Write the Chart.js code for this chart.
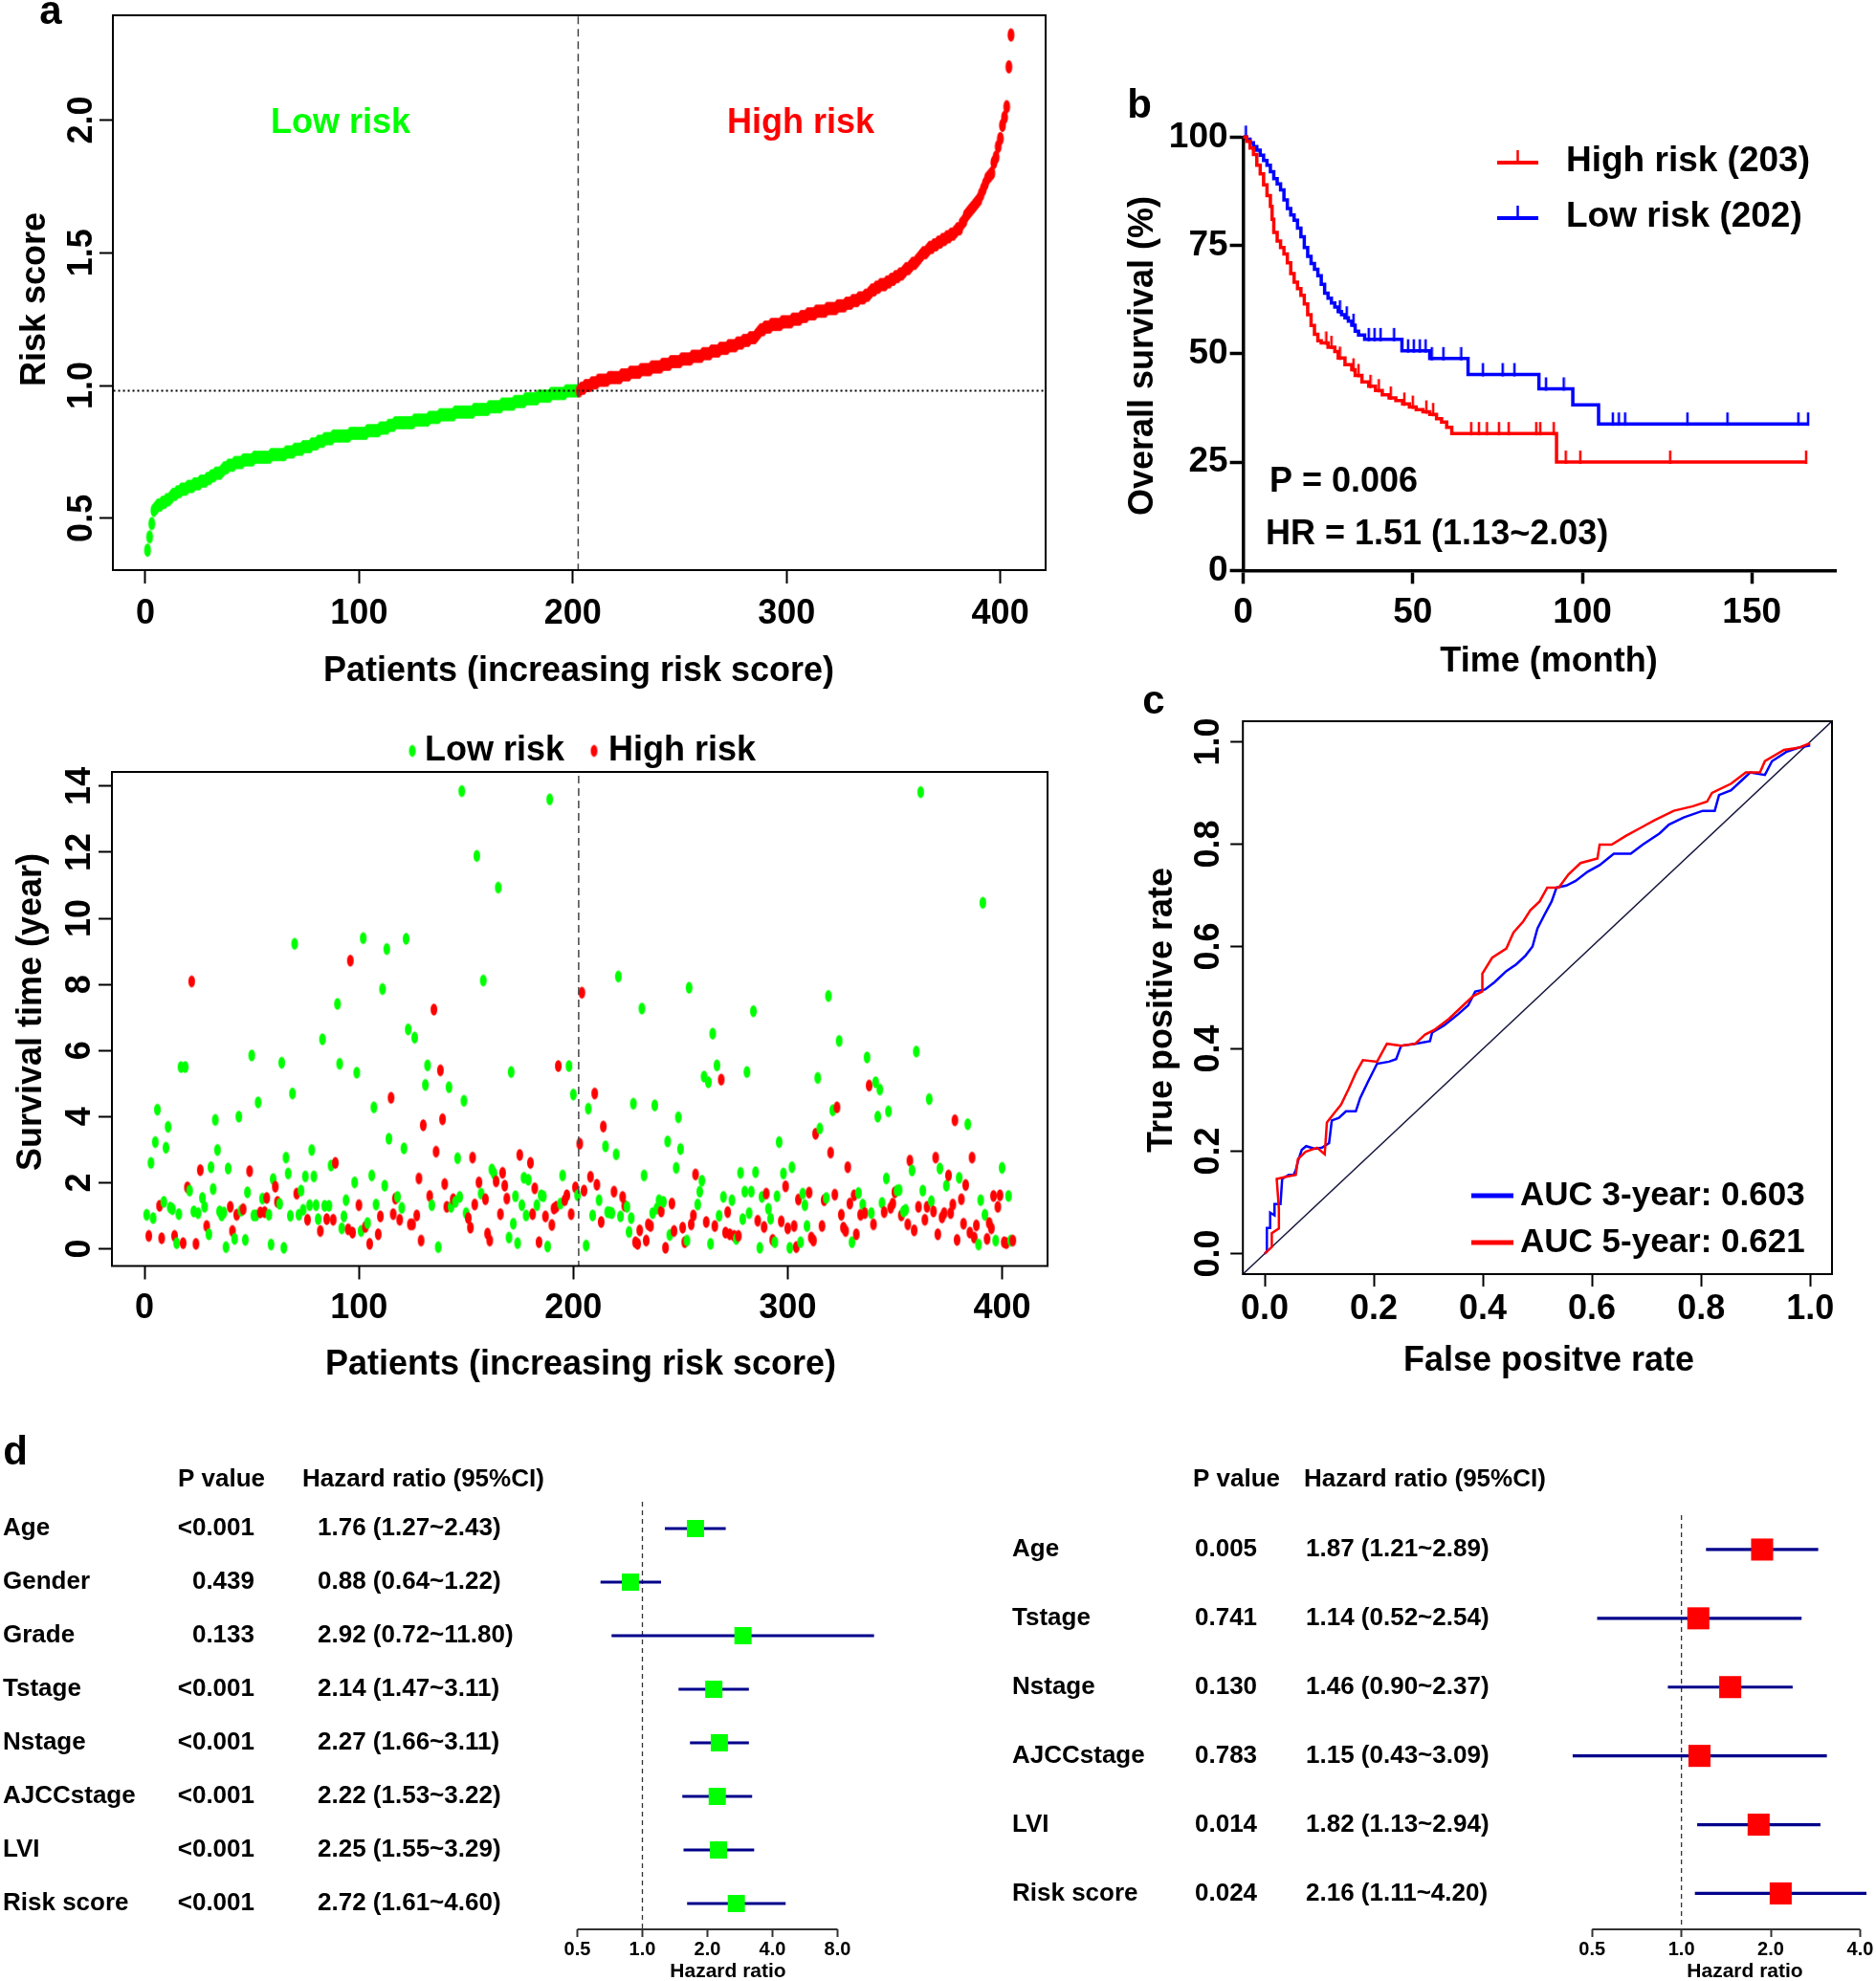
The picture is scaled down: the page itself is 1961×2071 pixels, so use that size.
<!DOCTYPE html>
<html>
<head>
<meta charset="utf-8">
<script src="https://cdn.jsdelivr.net/npm/chart.js@4.4.1/dist/chart.umd.min.js"></script>
<style>
  html, body { margin: 0; padding: 0; background: #fff; }
  #page { position: relative; width: 1961px; height: 2071px; background: #fff; overflow: hidden; }
  #page canvas { position: absolute; }
</style>
</head>
<body>
<div id="page">
  <canvas id="riskChart" width="1110" height="720" style="left:0;top:0"></canvas>
  <canvas id="survChart" width="1110" height="720" style="left:0;top:740px"></canvas>
  <canvas id="kmChart" width="811" height="640" style="left:1150px;top:80px"></canvas>
  <canvas id="rocChart" width="801" height="740" style="left:1160px;top:720px"></canvas>
  <canvas id="uniChart" width="940" height="581" style="left:0;top:1490px"></canvas>
  <canvas id="multiChart" width="921" height="581" style="left:1040px;top:1490px"></canvas>
</div>
<script>
// ---------- data: panel a (risk score, patients sorted) ----------
const lowRiskCount = 202;
const riskCutoff = 0.98;
const patientTicks = [0, 100, 200, 300, 400];
const riskTicks = [0.5, 1.0, 1.5, 2.0];
const riskScores = [
  0.38,0.43,0.48,0.53,0.54,0.55,0.55,0.56,0.56,0.57,
  0.57,0.58,0.59,0.59,0.60,0.60,0.61,0.61,0.61,0.62,
  0.62,0.62,0.63,0.63,0.63,0.64,0.64,0.64,0.65,0.65,
  0.66,0.66,0.67,0.67,0.67,0.68,0.69,0.69,0.70,0.70,
  0.70,0.71,0.71,0.71,0.71,0.72,0.72,0.72,0.72,0.72,
  0.73,0.73,0.73,0.73,0.73,0.73,0.73,0.73,0.74,0.74,
  0.74,0.74,0.74,0.74,0.74,0.75,0.75,0.75,0.75,0.76,
  0.76,0.76,0.76,0.77,0.77,0.77,0.77,0.78,0.78,0.78,
  0.79,0.79,0.79,0.80,0.80,0.80,0.80,0.81,0.81,0.81,
  0.81,0.81,0.81,0.81,0.81,0.82,0.82,0.82,0.82,0.82,
  0.82,0.82,0.82,0.83,0.83,0.83,0.83,0.83,0.83,0.84,
  0.84,0.84,0.84,0.85,0.85,0.85,0.86,0.86,0.86,0.86,
  0.86,0.86,0.86,0.86,0.86,0.87,0.87,0.87,0.87,0.87,
  0.87,0.87,0.88,0.88,0.88,0.88,0.88,0.89,0.89,0.89,
  0.89,0.89,0.89,0.89,0.90,0.90,0.90,0.90,0.90,0.90,
  0.90,0.90,0.90,0.91,0.91,0.91,0.91,0.91,0.91,0.91,
  0.92,0.92,0.92,0.92,0.92,0.92,0.93,0.93,0.93,0.93,
  0.93,0.93,0.94,0.94,0.94,0.94,0.94,0.95,0.95,0.95,
  0.95,0.95,0.95,0.96,0.96,0.96,0.96,0.96,0.96,0.97,
  0.97,0.97,0.97,0.97,0.97,0.97,0.98,0.98,0.98,0.98,
  0.98,0.98,
  0.98,0.99,0.99,1.00,1.00,1.00,1.01,1.01,
  1.01,1.02,1.02,1.02,1.02,1.02,1.03,1.03,1.03,1.03,
  1.03,1.03,1.04,1.04,1.04,1.04,1.05,1.05,1.05,1.05,
  1.05,1.06,1.06,1.06,1.06,1.06,1.07,1.07,1.07,1.07,
  1.07,1.08,1.08,1.08,1.08,1.09,1.09,1.09,1.09,1.09,
  1.10,1.10,1.10,1.10,1.10,1.11,1.11,1.11,1.11,1.11,
  1.12,1.12,1.12,1.12,1.13,1.13,1.13,1.13,1.14,1.14,
  1.14,1.14,1.15,1.15,1.15,1.15,1.16,1.16,1.16,1.17,
  1.17,1.17,1.18,1.18,1.18,1.19,1.20,1.21,1.21,1.22,
  1.22,1.22,1.23,1.23,1.23,1.23,1.23,1.24,1.24,1.24,
  1.24,1.24,1.25,1.25,1.25,1.25,1.26,1.26,1.26,1.27,
  1.27,1.27,1.27,1.28,1.28,1.28,1.28,1.28,1.29,1.29,
  1.29,1.29,1.29,1.30,1.30,1.30,1.30,1.31,1.31,1.31,
  1.32,1.32,1.32,1.33,1.33,1.33,1.34,1.34,1.35,1.36,
  1.36,1.37,1.37,1.38,1.38,1.38,1.39,1.39,1.40,1.40,
  1.41,1.41,1.42,1.42,1.43,1.44,1.44,1.45,1.46,1.46,
  1.47,1.48,1.49,1.50,1.50,1.51,1.52,1.52,1.53,1.53,
  1.54,1.54,1.55,1.55,1.56,1.56,1.57,1.57,1.58,1.59,
  1.59,1.61,1.62,1.64,1.65,1.66,1.67,1.68,1.69,1.70,
  1.72,1.74,1.76,1.78,1.79,1.80,1.84,1.86,1.90,1.93,
  1.98,2.01,2.05,2.20,2.32
];

// survival time (years) per patient, same order; 1 = red dot, 0 = green dot
const yearTicks = [0, 2, 4, 6, 8, 10, 12, 14];
const survYears = [
  1.03,0.39,2.60,0.93,3.23,4.21,1.30,0.32,1.42,3.06,
  3.69,1.25,1.20,0.39,0.17,1.05,5.50,0.17,5.50,1.86,
  1.76,8.09,1.13,0.15,1.08,2.38,1.54,1.27,0.69,0.44,
  2.47,1.81,3.90,2.99,1.13,1.01,1.10,0.05,2.43,1.27,
  0.54,0.30,1.03,4.00,1.15,1.20,0.27,1.71,2.35,5.85,
  1.01,1.01,4.43,1.10,1.52,1.11,1.54,1.03,0.13,2.11,
  1.88,1.42,1.36,5.63,0.03,2.76,2.28,1.00,4.70,9.23,
  1.67,1.03,1.76,1.18,2.19,0.88,1.32,2.99,2.19,1.32,
  0.90,0.54,6.34,1.30,0.90,1.30,2.52,0.88,2.60,7.41,
  5.60,0.62,0.98,1.47,0.59,8.72,0.49,2.01,5.33,1.32,
  0.54,9.40,0.66,0.78,0.15,2.22,4.28,1.34,0.44,0.98,
  7.86,1.91,9.07,3.33,4.57,1.05,1.52,1.57,0.88,1.24,
  3.04,9.38,6.64,0.74,0.74,6.39,1.01,2.13,0.25,3.74,
  4.96,5.55,1.60,1.32,7.24,2.94,0.05,5.40,3.92,1.96,
  1.27,4.89,1.27,1.50,1.42,2.74,1.57,13.85,4.48,1.08,
  0.93,0.64,2.76,1.34,11.89,2.01,1.67,8.12,1.50,0.46,
  0.25,2.40,2.28,2.04,10.93,1.05,2.30,1.91,1.52,0.34,
  5.35,0.76,1.59,0.17,2.84,1.32,2.15,1.01,2.09,2.60,
  1.05,1.83,1.32,0.20,1.62,1.59,0.98,0.07,13.60,0.72,
  1.22,1.27,5.53,1.37,2.22,1.47,1.62,5.53,1.05,4.67,
  1.86,1.62,3.18,7.75,1.76,0.10,4.24,2.18,1.01,4.70,
  1.94,1.47,0.81,3.70,3.10,1.11,1.10,1.08,1.73,2.86,
  8.24,0.98,1.57,1.30,1.27,0.51,0.93,4.39,0.20,0.15,
  0.56,7.27,2.22,0.25,0.74,0.69,1.08,4.34,1.22,1.47,
  1.13,1.42,0.03,3.25,0.42,1.37,0.54,2.45,3.98,3.02,
  0.64,0.20,0.25,7.90,0.74,1.01,2.25,1.34,1.73,2.06,
  5.21,0.81,5.04,0.15,6.51,0.69,5.55,1.00,5.12,1.57,
  0.49,1.11,0.44,1.47,0.39,0.30,0.39,2.30,0.90,1.73,
  5.35,1.08,1.73,7.19,2.32,0.85,0.03,1.57,0.66,1.67,
  1.21,0.91,0.27,0.20,1.59,3.23,0.83,2.28,1.89,0.62,
  0.03,2.47,0.69,0.05,1.49,0.20,1.67,1.32,0.69,1.70,
  0.34,0.25,3.48,5.17,3.64,0.69,1.47,1.54,7.65,2.91,
  4.19,1.64,4.28,6.29,1.03,0.64,0.54,2.47,1.37,0.20,
  1.62,0.44,1.69,1.03,1.34,1.08,5.79,4.94,1.08,0.74,
  5.04,4.00,4.82,1.39,1.11,2.13,4.16,1.24,1.37,1.71,
  1.76,1.78,1.01,1.13,1.18,0.74,2.67,2.37,0.56,5.97,
  1.27,13.82,1.76,0.88,1.27,4.53,1.44,1.13,2.76,0.44,
  2.43,0.95,1.08,1.91,2.22,1.08,1.34,3.89,0.27,2.15,
  1.50,0.76,1.93,3.77,0.49,2.76,0.34,0.71,0.13,1.47,
  10.47,1.03,0.30,0.78,0.62,1.60,0.25,1.27,1.62,2.45,
  0.20,0.17,1.60,0.25,0.25
];
const survDead = [
  0,1,0,0,0,0,1,1,0,0, 0,0,0,1,0,0,0,1,0,1, 0,1,0,1,0,1,0,0,1,0, 0,0,0,0,0,0,0,0,0,1,
  1,0,1,0,0,1,0,0,1,0, 0,0,0,1,0,1,1,0,0,0, 1,1,0,0,0,0,0,0,0,0, 1,0,0,0,0,1,0,0,0,0,
  0,1,0,0,1,0,0,1,1,0, 0,0,0,0,1,1,1,0,0,1, 0,0,1,0,1,0,0,0,1,1, 0,0,0,0,1,1,1,0,1,0,
  0,0,0,1,1,0,1,1,1,1, 0,0,1,0,1,1,0,1,1,1, 1,0,0,1,0,0,0,0,0,0, 1,1,1,1,0,1,0,0,1,1,
  1,0,0,1,0,1,1,1,1,0, 0,0,0,0,1,0,0,0,0,1, 1,1,0,1,0,0,1,0,0,1, 1,1,1,0,0,1,1,0,1,0,
  1,0,1,1,1,0,0,1,0,1, 1,0,1,1,0,0,0,0,1,0, 0,0,1,1,0,0,0,0,1,1, 1,0,0,1,1,1,0,0,0,0,
  1,0,1,0,0,1,1,0,0,0, 1,1,0,0,1,1,1,0,0,0, 0,1,0,0,0,1,0,0,1,0, 1,1,1,0,1,0,1,0,0,0,
  0,0,0,0,0,1,0,0,1,1, 0,0,1,0,0,0,1,0,1,1, 0,0,1,1,1,0,0,0,0,1, 1,1,1,0,0,1,1,0,0,1,
  0,1,1,0,1,1,1,1,1,0, 1,1,0,1,0,1,0,1,0,1, 0,0,0,0,1,0,0,1,1,1, 0,0,1,0,0,1,1,0,1,0,
  1,0,0,1,1,0,0,1,1,1, 0,1,1,0,1,1,1,1,1,0, 1,1,1,0,1,1,1,1,0,0, 0,0,1,1,1,1,0,1,1,0,
  1,1,0,0,1
];

// ---------- data: panel b (Kaplan-Meier) ----------
const monthTicks = [0, 50, 100, 150];
const survPctTicks = [0, 25, 50, 75, 100];
const kmHighTime = [0,1,2,3,4,5,6,7,8,8.5,9,10,11,12,13,14,15,16,17,18,19,20,21,22,23,25,27,28,30,32,33,35,37,39,41,43,45,47,49,51,53,55,57,58.5,60,61.5,92.4,166];
const kmHighSurv = [100,99,97.5,96,93.5,91.5,89,86.5,84,81,78,76,74.5,73,71,68.5,66.5,65,63.5,61.5,59,56.5,54.5,53,52.5,51.5,50.5,49,47.5,46.3,45,43.5,42.5,41.5,40.5,39.8,39.2,38.4,37.7,37.1,36.6,36,35,34.2,33,31.6,25,25];
const kmHighCensor = [24.5,26,28.5,32.5,34,37.5,40,43.5,47.5,50,54,56,67.2,69.5,71.9,75.4,78.3,86.4,87.6,91.6,95.1,99.4,125.9,166];
const kmLowTime = [0,1,2,3,4,5,6,7,8,9,10,11,12,13,14,15,16,17,18,19,20,21,22,23,24,25,26,27,28,29,30,31,32,33,34,35.8,46.8,55,66.3,87.2,97.2,104.8,166.6];
const kmLowSurv = [100,99.5,98.7,97.8,97,95.8,94.6,93.5,92,90.4,89.2,87.8,85.5,83.5,82,80.8,79,77,74.5,72.5,70.8,69.5,68,66,64,62.8,61.7,60.8,59.7,59,58.3,57.5,56.6,55.2,54.3,53.3,50.7,48.9,45.2,41.9,38.2,33.8,33.8];
const kmLowCensor = [0.8,28.5,30.5,32.5,37,38.7,40.5,44.5,48.6,50.3,52.1,53.8,55.6,59,64.3,70.7,76.5,80,89.3,94.5,109,110.8,112.6,131,142.8,163.7,166.6];

// ---------- data: panel c (ROC) ----------
const rateTicks = [0, 0.2, 0.4, 0.6, 0.8, 1.0];
const rocFpr3 = [0,0.004,0.004,0.01,0.01,0.018,0.018,0.029,0.032,0.044,0.053,0.057,0.061,0.068,0.076,0.092,0.105,0.118,0.123,0.136,0.149,0.167,0.175,0.189,0.206,0.228,0.241,0.25,0.276,0.303,0.307,0.329,0.355,0.373,0.386,0.404,0.421,0.443,0.461,0.478,0.491,0.5,0.513,0.526,0.535,0.553,0.57,0.592,0.614,0.64,0.671,0.693,0.724,0.741,0.768,0.803,0.825,0.833,0.855,0.877,0.89,0.917,0.93,0.956,0.978,1.0];
const rocTpr3 = [0,0.004,0.05,0.05,0.08,0.075,0.097,0.097,0.146,0.154,0.154,0.163,0.181,0.203,0.21,0.205,0.207,0.216,0.26,0.265,0.278,0.278,0.304,0.335,0.371,0.375,0.38,0.406,0.41,0.415,0.432,0.446,0.468,0.485,0.512,0.516,0.53,0.552,0.565,0.582,0.6,0.635,0.662,0.688,0.715,0.719,0.728,0.746,0.759,0.781,0.781,0.799,0.821,0.838,0.852,0.865,0.865,0.896,0.905,0.927,0.94,0.935,0.962,0.98,0.988,0.993];
const rocFpr5 = [0,0.004,0.013,0.013,0.026,0.026,0.022,0.039,0.057,0.061,0.075,0.096,0.11,0.114,0.127,0.14,0.154,0.167,0.18,0.206,0.224,0.25,0.276,0.294,0.311,0.338,0.364,0.382,0.399,0.399,0.417,0.443,0.456,0.474,0.487,0.504,0.518,0.539,0.557,0.579,0.61,0.614,0.636,0.662,0.693,0.715,0.75,0.785,0.811,0.82,0.855,0.882,0.908,0.917,0.952,0.978,1.0];
const rocTpr5 = [0,0.004,0.013,0.04,0.049,0.088,0.146,0.15,0.154,0.185,0.199,0.207,0.194,0.256,0.274,0.291,0.322,0.353,0.378,0.375,0.41,0.406,0.41,0.428,0.437,0.459,0.485,0.503,0.512,0.547,0.578,0.596,0.627,0.649,0.671,0.688,0.715,0.715,0.741,0.763,0.772,0.799,0.799,0.816,0.834,0.847,0.865,0.874,0.883,0.9,0.918,0.94,0.94,0.962,0.984,0.988,0.997];

// ---------- data: panel d (forest plots) ----------
const uniNames = ['Age', 'Gender', 'Grade', 'Tstage', 'Nstage', 'AJCCstage', 'LVI', 'Risk score'];
const uniP = ['<0.001', '0.439', '0.133', '<0.001', '<0.001', '<0.001', '<0.001', '<0.001'];
const uniHR = [1.76, 0.88, 2.92, 2.14, 2.27, 2.22, 2.25, 2.72];
const uniLo = [1.27, 0.64, 0.72, 1.47, 1.66, 1.53, 1.55, 1.61];
const uniHi = [2.43, 1.22, 11.80, 3.11, 3.11, 3.22, 3.29, 4.60];
const uniTicks = [0.5, 1, 2, 4, 8];
const multiNames = ['Age', 'Tstage', 'Nstage', 'AJCCstage', 'LVI', 'Risk score'];
const multiP = ['0.005', '0.741', '0.130', '0.783', '0.014', '0.024'];
const multiHR = [1.87, 1.14, 1.46, 1.15, 1.82, 2.16];
const multiLo = [1.21, 0.52, 0.90, 0.43, 1.13, 1.11];
const multiHi = [2.89, 2.54, 2.37, 3.09, 2.94, 4.20];
const multiTicks = [0.5, 1, 2, 4];

// ---------- look ----------
const FAM = "'Liberation Sans', Arial, sans-serif";
const GREEN = '#00ff00', RED = '#ff0000', BLUE = '#0000ff', NAVY = '#00008b';
const font = (size) => `bold ${size}px ${FAM}`;

Chart.defaults.font.family = FAM;
Chart.defaults.color = '#000';
Chart.defaults.animation = false;
Chart.defaults.events = [];
Chart.defaults.layout.autoPadding = false;
Chart.defaults.plugins.legend.display = false;
Chart.defaults.plugins.tooltip.enabled = false;

function ellipseDot(color, rx, ry) {
  const c = document.createElement('canvas');
  c.width = Math.ceil(rx * 2) + 2;
  c.height = Math.ceil(ry * 2) + 2;
  const g = c.getContext('2d');
  g.fillStyle = color;
  g.beginPath();
  g.ellipse(c.width / 2, c.height / 2, rx, ry, 0, 0, Math.PI * 2);
  g.fill();
  return c;
}
// censor mark: short vertical tick sitting mostly above the curve
function censorTick(color) {
  const c = document.createElement('canvas');
  c.width = 4; c.height = 26;
  const g = c.getContext('2d');
  g.fillStyle = color;
  g.fillRect(0.75, 1, 2.5, 14);
  return c;
}

const dotA = { g: ellipseDot(GREEN, 3.6, 7), r: ellipseDot(RED, 3.6, 7) };
const dotB = { g: ellipseDot(GREEN, 3.5, 6.2), r: ellipseDot(RED, 3.5, 6.2) };

const fixedTicks = vals => s => { s.ticks = vals.map(v => ({ value: v })); };
const tickGrid = (len, w) => ({ display: true, drawOnChartArea: false, drawTicks: true, tickLength: len, tickWidth: w, tickColor: '#000' });

// extra drawing per canvas (frames, rotated R-style labels, texts, keys)
const deco = {};
Chart.register({
  id: 'deco',
  afterDraw(chart) {
    const d = deco[chart.canvas.id];
    if (!d) return;
    const ctx = chart.ctx, a = chart.chartArea;
    ctx.save();
    if (d.box) {
      ctx.strokeStyle = '#000';
      ctx.lineWidth = d.box;
      ctx.strokeRect(a.left, a.top, a.right - a.left, a.bottom - a.top);
    }
    if (d.axisSeg) {
      const s = chart.scales.x;
      ctx.strokeStyle = '#333';
      ctx.lineWidth = 2;
      ctx.beginPath();
      ctx.moveTo(s.getPixelForValue(d.axisSeg[0]), a.bottom);
      ctx.lineTo(s.getPixelForValue(d.axisSeg[1]), a.bottom);
      ctx.stroke();
    }
    if (d.rotTicks) {
      const s = chart.scales.y, r = d.rotTicks;
      ctx.font = r.font; ctx.fillStyle = '#000';
      ctx.textAlign = 'center'; ctx.textBaseline = 'middle';
      s.ticks.forEach(t => {
        ctx.save();
        ctx.translate(r.x, s.getPixelForValue(t.value));
        ctx.rotate(-Math.PI / 2);
        ctx.fillText(t.value.toFixed(r.digits), 0, 0);
        ctx.restore();
      });
    }
    if (d.rows) {
      const s = chart.scales.y, r = d.rows;
      ctx.font = r.font; ctx.fillStyle = '#000'; ctx.textBaseline = 'middle';
      r.names.forEach((name, i) => {
        const y = s.getPixelForValue(i);
        ctx.textAlign = 'left';
        ctx.fillText(name, r.nameX, y);
        ctx.textAlign = r.pAlign;
        ctx.fillText(r.p[i], r.pX, y);
        ctx.textAlign = 'left';
        ctx.fillText(`${r.hr[i].toFixed(2)} (${r.lo[i].toFixed(2)}~${r.hi[i].toFixed(2)})`, r.hrX, y);
      });
    }
    (d.keys || []).forEach(k => {
      if (k.img) {
        ctx.drawImage(k.img, k.x - k.img.width / 2, k.y - k.img.height / 2);
        return;
      }
      ctx.strokeStyle = k.color; ctx.lineWidth = k.width;
      ctx.beginPath(); ctx.moveTo(k.x1, k.y); ctx.lineTo(k.x2, k.y); ctx.stroke();
      if (k.tick) {
        const m = (k.x1 + k.x2) / 2;
        ctx.lineWidth = 2.5;
        ctx.beginPath(); ctx.moveTo(m, k.y); ctx.lineTo(m, k.y - 13); ctx.stroke();
      }
    });
    (d.texts || []).forEach(t => {
      ctx.save();
      ctx.font = t.font; ctx.fillStyle = t.color || '#000';
      ctx.textAlign = t.align || 'center'; ctx.textBaseline = 'middle';
      ctx.translate(t.x, t.y);
      if (t.rot) ctx.rotate(t.rot);
      ctx.fillText(t.text, 0, 0);
      ctx.restore();
    });
    ctx.restore();
  }
});

// ========== a (top): risk score ==========
deco.riskChart = {
  box: 2,
  rotTicks: { x: 86, font: font(36), digits: 1 },
  texts: [
    { text: 'a', x: 53, y: 13, font: font(42) },
    { text: 'Low risk', x: 356, y: 129, font: font(36), color: GREEN },
    { text: 'High risk', x: 837, y: 129, font: font(36), color: RED },
    { text: 'Patients (increasing risk score)', x: 605, y: 702, font: font(36) },
    { text: 'Risk score', x: 37, y: 313, font: font(36), rot: -Math.PI / 2 }
  ]
};
new Chart(document.getElementById('riskChart'), {
  type: 'scatter',
  data: {
    datasets: [
      { type: 'line', data: [{ x: lowRiskCount + 0.5, y: -10 }, { x: lowRiskCount + 0.5, y: 10 }],
        borderColor: '#444', borderWidth: 1.5, borderDash: [8, 5], pointRadius: 0 },
      { type: 'line', data: [{ x: -100, y: riskCutoff }, { x: 1000, y: riskCutoff }],
        borderColor: '#000', borderWidth: 2, borderDash: [2, 3], pointRadius: 0 },
      { data: riskScores.map((v, i) => ({ x: i + 1, y: v })),
        pointStyle: riskScores.map((v, i) => i < lowRiskCount ? dotA.g : dotA.r), pointRadius: 4 }
    ]
  },
  options: {
    responsive: false,
    layout: { padding: { left: 0, top: 16, right: 17, bottom: 0 } },
    scales: {
      x: { type: 'linear', min: -15.2, max: 421.2, afterBuildTicks: fixedTicks(patientTicks),
           afterFit: s => { s.height = 124; }, grid: tickGrid(14, 2), border: { display: false },
           ticks: { font: { size: 36, weight: 'bold' }, padding: 10, autoSkip: false, maxRotation: 0 } },
      y: { type: 'linear', min: 0.305, max: 2.394, afterBuildTicks: fixedTicks(riskTicks),
           afterFit: s => { s.width = 118; }, grid: tickGrid(14, 2), border: { display: false },
           ticks: { display: false } }
    }
  }
});

// ========== a (bottom): survival time ==========
deco.survChart = {
  box: 2,
  rotTicks: { x: 84, font: font(36), digits: 0 },
  keys: [
    { img: dotB.g, x: 431, y: 45 },
    { img: dotB.r, x: 621, y: 45 }
  ],
  texts: [
    { text: 'Low risk', x: 444, y: 45, font: font(36), align: 'left' },
    { text: 'High risk', x: 636, y: 45, font: font(36), align: 'left' },
    { text: 'Patients (increasing risk score)', x: 607, y: 687, font: font(36) },
    { text: 'Survival time (year)', x: 33, y: 318, font: font(36), rot: -Math.PI / 2 }
  ]
};
new Chart(document.getElementById('survChart'), {
  type: 'scatter',
  data: {
    datasets: [
      { type: 'line', data: [{ x: lowRiskCount + 0.5, y: -10 }, { x: lowRiskCount + 0.5, y: 20 }],
        borderColor: '#444', borderWidth: 1.5, borderDash: [8, 5], pointRadius: 0 },
      { data: survYears.map((v, i) => ({ x: i + 1, y: v })),
        pointStyle: survDead.map(d => d ? dotB.r : dotB.g), pointRadius: 4 }
    ]
  },
  options: {
    responsive: false,
    layout: { padding: { left: 0, top: 67, right: 15, bottom: 0 } },
    scales: {
      x: { type: 'linear', min: -15.2, max: 421.2, afterBuildTicks: fixedTicks(patientTicks),
           afterFit: s => { s.height = 136.5; }, grid: tickGrid(14, 2), border: { display: false },
           ticks: { font: { size: 36, weight: 'bold' }, padding: 9, autoSkip: false, maxRotation: 0 } },
      y: { type: 'linear', min: -0.52, max: 14.43, afterBuildTicks: fixedTicks(yearTicks),
           afterFit: s => { s.width = 117; }, grid: tickGrid(14, 2), border: { display: false },
           ticks: { display: false } }
    }
  }
});

// ========== b: Kaplan-Meier ==========
const survAt = (times, surv, t) => {
  let s = surv[0];
  times.forEach((tt, i) => { if (tt <= t) s = surv[i]; });
  return s;
};
deco.kmChart = {
  keys: [
    { color: RED, width: 4, x1: 415, x2: 458, y: 90, tick: true },
    { color: BLUE, width: 4, x1: 415, x2: 458, y: 148, tick: true }
  ],
  texts: [
    { text: 'b', x: 41, y: 31, font: font(42) },
    { text: 'High risk (203)', x: 487, y: 89, font: font(37), align: 'left' },
    { text: 'Low risk (202)', x: 487, y: 147, font: font(37), align: 'left' },
    { text: 'P = 0.006', x: 177, y: 424, font: font(36), align: 'left' },
    { text: 'HR = 1.51 (1.13~2.03)', x: 173, y: 479, font: font(36), align: 'left' },
    { text: 'Time (month)', x: 469, y: 612, font: font(36) },
    { text: 'Overall survival (%)', x: 45, y: 292, font: font(36), rot: -Math.PI / 2 }
  ]
};
const tickRed = censorTick(RED), tickBlue = censorTick(BLUE);
new Chart(document.getElementById('kmChart'), {
  type: 'scatter',
  data: {
    datasets: [
      { type: 'line', data: kmHighTime.map((t, i) => ({ x: t, y: kmHighSurv[i] })), stepped: 'before',
        borderColor: RED, borderWidth: 3.5, pointRadius: 0, clip: false },
      { type: 'line', data: kmLowTime.map((t, i) => ({ x: t, y: kmLowSurv[i] })), stepped: 'before',
        borderColor: BLUE, borderWidth: 3.5, pointRadius: 0, clip: false },
      { data: kmHighCensor.map(t => ({ x: t, y: survAt(kmHighTime, kmHighSurv, t) })),
        pointStyle: tickRed, pointRadius: 4, clip: false },
      { data: kmLowCensor.map(t => ({ x: t, y: survAt(kmLowTime, kmLowSurv, t) })),
        pointStyle: tickBlue, pointRadius: 4, clip: false }
    ]
  },
  options: {
    responsive: false,
    layout: { padding: { left: 0, top: 63.3, right: 41.2, bottom: 0 } },
    scales: {
      x: { type: 'linear', min: 0, max: 175, afterBuildTicks: fixedTicks(monthTicks),
           afterFit: s => { s.height = 123.7; }, grid: tickGrid(14, 3.5),
           border: { display: true, width: 3.5, color: '#000' },
           ticks: { font: { size: 37, weight: 'bold' }, padding: 8, autoSkip: false, maxRotation: 0 } },
      y: { type: 'linear', min: 0, max: 100, afterBuildTicks: fixedTicks(survPctTicks),
           afterFit: s => { s.width = 149.6; }, grid: tickGrid(14, 3.5),
           border: { display: true, width: 3.5, color: '#000' },
           ticks: { font: { size: 37, weight: 'bold' }, padding: 2 } }
    }
  }
});

// ========== c: ROC ==========
deco.rocChart = {
  box: 2,
  rotTicks: { x: 104, font: font(36), digits: 1 },
  keys: [
    { color: BLUE, width: 5, x1: 378, x2: 422, y: 530 },
    { color: RED, width: 5, x1: 378, x2: 422, y: 579 }
  ],
  texts: [
    { text: 'c', x: 46, y: 14, font: font(42) },
    { text: 'AUC 3-year: 0.603', x: 429, y: 530, font: font(35), align: 'left' },
    { text: 'AUC 5-year: 0.621', x: 429, y: 579, font: font(35), align: 'left' },
    { text: 'False positve rate', x: 459, y: 703, font: font(36) },
    { text: 'True positive rate', x: 55, y: 336, font: font(36), rot: -Math.PI / 2 }
  ]
};
new Chart(document.getElementById('rocChart'), {
  type: 'scatter',
  data: {
    datasets: [
      { type: 'line', data: rocFpr5.map((x, i) => ({ x, y: rocTpr5[i] })),
        borderColor: RED, borderWidth: 2.5, pointRadius: 0, order: 0 },
      { type: 'line', data: rocFpr3.map((x, i) => ({ x, y: rocTpr3[i] })),
        borderColor: BLUE, borderWidth: 2.5, pointRadius: 0, order: 1 },
      { type: 'line', data: [{ x: -1, y: -1 }, { x: 2, y: 2 }],
        borderColor: '#14143c', borderWidth: 1.5, pointRadius: 0, order: 2 }
    ]
  },
  options: {
    responsive: false,
    layout: { padding: { left: 0, top: 34, right: 46, bottom: 0 } },
    scales: {
      x: { type: 'linear', min: -0.04, max: 1.04, afterBuildTicks: fixedTicks(rateTicks),
           afterFit: s => { s.height = 128; }, grid: tickGrid(13, 2), border: { display: false },
           ticks: { font: { size: 36, weight: 'bold' }, padding: 2, autoSkip: false, maxRotation: 0,
                    callback: v => Number(v).toFixed(1) } },
      y: { type: 'linear', min: -0.04, max: 1.04, afterBuildTicks: fixedTicks(rateTicks),
           afterFit: s => { s.width = 139.2; }, grid: tickGrid(13, 2), border: { display: false },
           ticks: { display: false } }
    }
  }
});

// ========== d: forest plots ==========
function forest(id, cfg) {
  const rowsMax = -0.5 + cfg.plotH / cfg.rowGap;
  deco[id] = {
    axisSeg: [cfg.ticks[0], cfg.ticks[cfg.ticks.length - 1]],
    rows: { names: cfg.names, p: cfg.p, hr: cfg.hr, lo: cfg.lo, hi: cfg.hi, font: font(26),
            nameX: cfg.nameX, pX: cfg.pX, pAlign: cfg.pAlign, hrX: cfg.hrX },
    texts: cfg.texts
  };
  new Chart(document.getElementById(id), {
    type: 'scatter',
    data: {
      datasets: [
        { data: cfg.hr.map((v, i) => ({ x: v, y: i })), pointStyle: 'rect',
          pointRadius: cfg.boxR, backgroundColor: cfg.boxColor, borderWidth: 0, order: 0 },
        ...cfg.hr.map((v, i) => ({ type: 'line', data: [{ x: cfg.lo[i], y: i }, { x: cfg.hi[i], y: i }],
          borderColor: NAVY, borderWidth: 3.2, pointRadius: 0, order: 1 })),
        { type: 'line', data: [{ x: 1, y: -0.5 }, { x: 1, y: rowsMax }],
          borderColor: '#333', borderWidth: 1.3, borderDash: [5, 4], pointRadius: 0, order: 2 }
      ]
    },
    options: {
      responsive: false,
      layout: { padding: { left: 590, top: cfg.top, right: cfg.right, bottom: 0 } },
      scales: {
        x: { type: 'logarithmic', min: cfg.xMin, max: cfg.xMax, afterBuildTicks: fixedTicks(cfg.ticks),
             afterFit: s => { s.height = 54; }, grid: { display: true, drawOnChartArea: false, tickLength: 8, tickWidth: 2, tickColor: '#333' },
             border: { display: false },
             ticks: { font: { size: 20, weight: 'bold' }, padding: 1, autoSkip: false, maxRotation: 0,
                      callback: v => Number(v).toFixed(1) } },
        y: { type: 'linear', reverse: true, min: -0.5, max: rowsMax, display: false }
      }
    }
  });
}

forest('uniChart', {
  names: uniNames, p: uniP, hr: uniHR, lo: uniLo, hi: uniHi, ticks: uniTicks,
  xMin: 0.4357, xMax: 13.94, top: 80, right: 10, plotH: 447, rowGap: 56,
  boxR: 12.7, boxColor: GREEN, nameX: 3, pX: 266, pAlign: 'right', hrX: 332,
  texts: [
    { text: 'd', x: 16, y: 29, font: font(42) },
    { text: 'P value', x: 186, y: 57, font: font(26), align: 'left' },
    { text: 'Hazard ratio (95%CI)', x: 316, y: 57, font: font(26), align: 'left' },
    { text: 'Hazard ratio', x: 761, y: 571, font: font(21) }
  ]
});

forest('multiChart', {
  names: multiNames, p: multiP, hr: multiHR, lo: multiLo, hi: multiHi, ticks: multiTicks,
  xMin: 0.3878, xMax: 4.327, top: 94, right: 6, plotH: 433, rowGap: 71.9,
  boxR: 16.3, boxColor: RED, nameX: 18, pX: 209, pAlign: 'left', hrX: 325,
  texts: [
    { text: 'P value', x: 207, y: 57, font: font(26), align: 'left' },
    { text: 'Hazard ratio (95%CI)', x: 323, y: 57, font: font(26), align: 'left' },
    { text: 'Hazard ratio', x: 784, y: 571, font: font(21) }
  ]
});
</script>
</body>
</html>
